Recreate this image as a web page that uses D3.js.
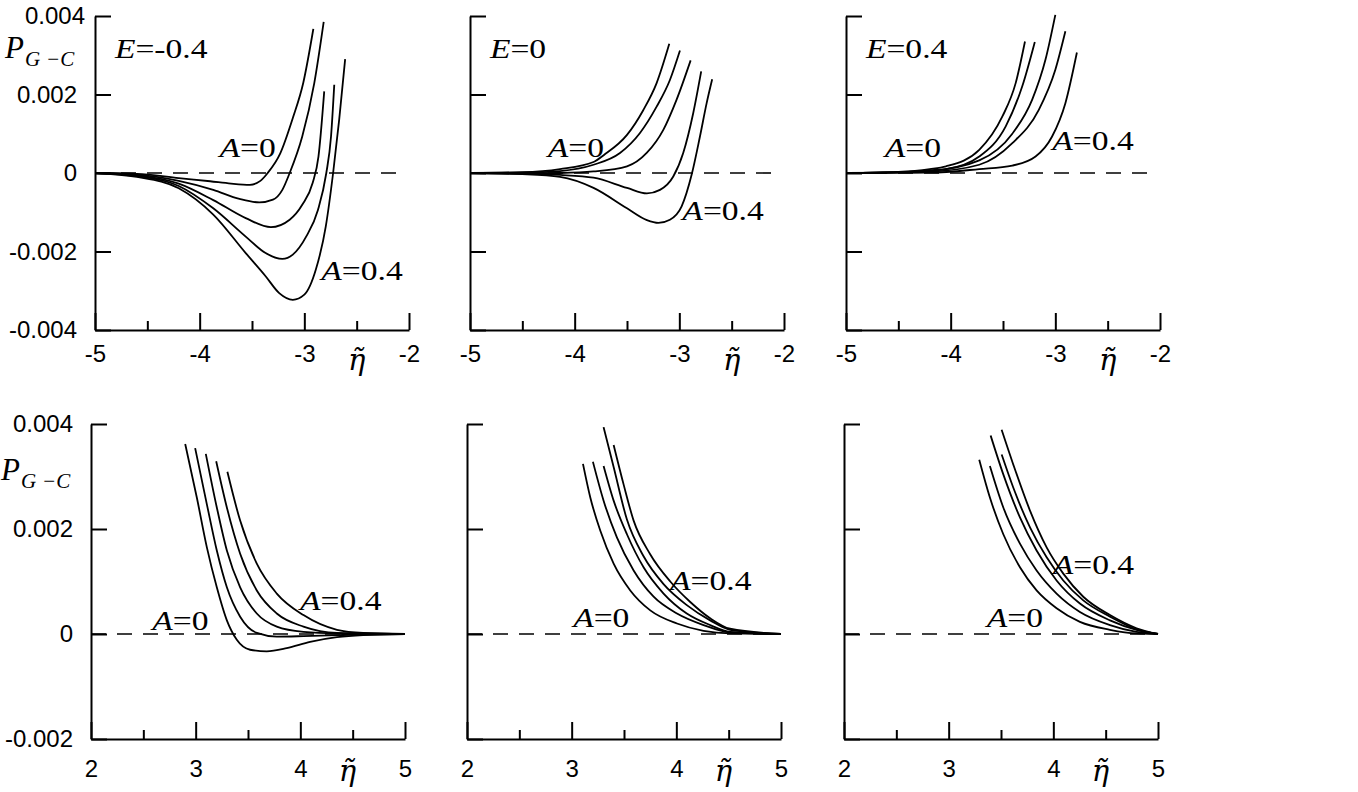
<!DOCTYPE html>
<html>
<head>
<meta charset="utf-8">
<script src="https://cdn.jsdelivr.net/npm/d3@7"></script>
<style>
  body { margin: 0; background: #fff; }
  svg { display: block; }
</style>
</head>
<body>
<div id="chart"></div>
<script>
// each panel holds five curves, A = 0, 0.1, 0.2, 0.3, 0.4 ; points are [eta, P]
var aValues = [0, 0.1, 0.2, 0.3, 0.4];
var eValues = ["-0.4", "0", "0.4"];

// E = -0.4, eta < 0
var curvesNegE1 = [
  [[-5,0],[-4.6,-0.00002],[-4.2,-0.00013],[-3.9,-0.00021],[-3.7,-0.00027],[-3.52,-0.0003],[-3.42,-0.0002],[-3.35,0],[-3.23,0.0005],[-3.11,0.0014],[-3.01,0.0023],[-2.914,0.00367]],
  [[-5,0],[-4.6,-0.00004],[-4.2,-0.0002],[-3.87,-0.00043],[-3.62,-0.00066],[-3.43,-0.00075],[-3.3,-0.00068],[-3.21,-0.00043],[-3.14,0],[-3.02,0.00093],[-2.905,0.00229],[-2.815,0.00385]],
  [[-5,0],[-4.6,-0.00006],[-4.2,-0.00027],[-3.87,-0.00069],[-3.56,-0.00115],[-3.32,-0.00138],[-3.14,-0.00119],[-3.02,-0.00081],[-2.92,-0.00025],[-2.865,0.00042],[-2.81,0.00208]],
  [[-5,0],[-4.6,-0.00008],[-4.2,-0.00033],[-3.87,-0.0009],[-3.56,-0.00162],[-3.37,-0.00204],[-3.21,-0.00219],[-3.11,-0.00208],[-2.98,-0.00161],[-2.87,-0.00094],[-2.79,0],[-2.745,0.00093],[-2.714,0.00225]],
  [[-5,0],[-4.6,-0.0001],[-4.2,-0.00039],[-3.87,-0.00106],[-3.56,-0.00204],[-3.37,-0.00263],[-3.24,-0.00306],[-3.11,-0.00323],[-3.0,-0.0031],[-2.89,-0.00246],[-2.795,-0.00136],[-2.725,0],[-2.667,0.00136],[-2.61,0.0029]]
];
// E = 0, eta < 0
var curvesNegE2 = [
  [[-5,0],[-4.5,0.00002],[-4.14,0.0001],[-3.82,0.00028],[-3.72,0.00046],[-3.5,0.00097],[-3.345,0.0016],[-3.217,0.00229],[-3.096,0.00329]],
  [[-5,0],[-4.5,0.00001],[-4.14,0.00005],[-3.82,0.00021],[-3.567,0.00051],[-3.376,0.00102],[-3.217,0.00169],[-3.09,0.00237],[-2.994,0.00312]],
  [[-5,0],[-4.5,-0.00001],[-4.14,0],[-3.82,0.00004],[-3.5,0.00017],[-3.312,0.00051],[-3.153,0.0011],[-3.026,0.00187],[-2.892,0.00287]],
  [[-5,0],[-4.5,-0.00002],[-4.14,-0.00005],[-3.82,-0.00012],[-3.5,-0.00038],[-3.31,-0.00052],[-3.185,-0.00043],[-3.058,-0.00009],[-2.963,0.00051],[-2.867,0.00153],[-2.791,0.00259]],
  [[-5,0],[-4.5,-0.00003],[-4.14,-0.0001],[-3.82,-0.00038],[-3.5,-0.0009],[-3.31,-0.0012],[-3.2,-0.00127],[-3.09,-0.00119],[-2.978,-0.00085],[-2.882,-0.00004],[-2.803,0.00093],[-2.739,0.00178],[-2.686,0.00239]]
];
// E = 0.4, eta < 0
var curvesNegE3 = [
  [[-5,0],[-4.5,0.00003],[-4.2,0.0001],[-4.044,0.00017],[-3.727,0.00059],[-3.506,0.00144],[-3.379,0.00229],[-3.29,0.00335]],
  [[-5,0],[-4.5,0.00002],[-4.2,0.00007],[-4.044,0.0001],[-3.727,0.00042],[-3.474,0.00119],[-3.316,0.00221],[-3.196,0.00334]],
  [[-5,0],[-4.5,0.00002],[-4.2,0.00005],[-3.727,0.00032],[-3.411,0.001],[-3.221,0.00187],[-3.094,0.00289],[-3.0,0.00403]],
  [[-5,0],[-4.5,0.00001],[-4.2,0.00003],[-3.727,0.00021],[-3.411,0.00076],[-3.158,0.00161],[-3.0,0.00263],[-2.904,0.00361]],
  [[-5,0],[-4.5,0.00001],[-4.2,0.00001],[-3.727,0.0001],[-3.411,0.00019],[-3.189,0.00042],[-3.031,0.00093],[-2.904,0.00178],[-2.794,0.00307]]
];
// E = -0.4, eta > 0
var curvesPosE1 = [
  [[2.9,0.00362],[3.011,0.0026],[3.107,0.00165],[3.202,0.00089],[3.298,0.00026],[3.393,-0.00011],[3.52,-0.0003],[3.679,-0.00033],[3.87,-0.00027],[4.093,-0.00015],[4.35,-0.00006],[4.6,-0.00002],[5,0]],
  [[2.995,0.00354],[3.107,0.00247],[3.202,0.00159],[3.298,0.00089],[3.425,0.00033],[3.584,0.00002],[3.775,-0.00005],[4.03,-0.00004],[4.35,-0.00002],[5,0]],
  [[3.097,0.00343],[3.202,0.00241],[3.298,0.00159],[3.425,0.00089],[3.584,0.00039],[3.775,0.00014],[4.03,0.00004],[4.35,0.00001],[5,0]],
  [[3.196,0.00329],[3.298,0.00241],[3.425,0.00153],[3.584,0.00083],[3.775,0.00039],[4.03,0.00014],[4.35,0.00002],[5,0]],
  [[3.303,0.00309],[3.425,0.00216],[3.584,0.00134],[3.775,0.00077],[4.03,0.00036],[4.35,0.00008],[4.6,0.00002],[5,0]]
];
// E = 0, eta > 0
var curvesPosE2 = [
  [[3.108,0.00324],[3.178,0.0026],[3.273,0.00197],[3.401,0.00134],[3.56,0.00083],[3.751,0.00045],[4.006,0.0002],[4.26,0.00006],[4.514,0.00001],[5,0]],
  [[3.203,0.00328],[3.305,0.00254],[3.432,0.00184],[3.592,0.00121],[3.783,0.00071],[4.006,0.00039],[4.26,0.00017],[4.514,0.00003],[5,0]],
  [[3.305,0.0032],[3.401,0.00254],[3.528,0.0019],[3.687,0.00127],[3.878,0.00077],[4.1,0.00039],[4.323,0.00017],[4.514,0.00004],[5,0]],
  [[3.305,0.00394],[3.401,0.00318],[3.528,0.00218],[3.687,0.00148],[3.878,0.00095],[4.1,0.00055],[4.323,0.00026],[4.514,0.00008],[5,0]],
  [[3.401,0.0036],[3.496,0.00285],[3.592,0.00216],[3.75,0.00152],[3.942,0.001],[4.133,0.00061],[4.323,0.0003],[4.514,0.0001],[5,0]]
];
// E = 0.4, eta > 0
var curvesPosE3 = [
  [[3.292,0.00332],[3.394,0.0026],[3.522,0.0019],[3.681,0.00127],[3.84,0.00083],[4.031,0.00049],[4.254,0.00023],[4.541,0.00008],[4.795,0.00001],[5,0]],
  [[3.394,0.0032],[3.522,0.00241],[3.681,0.00172],[3.84,0.00121],[4.031,0.00077],[4.254,0.00042],[4.541,0.00017],[4.795,0.00004],[5,0]],
  [[3.401,0.00378],[3.522,0.00304],[3.681,0.00222],[3.84,0.00159],[4.031,0.00102],[4.254,0.00058],[4.541,0.00026],[4.795,0.00008],[5,0]],
  [[3.506,0.00342],[3.617,0.00279],[3.777,0.00203],[3.936,0.00146],[4.095,0.00102],[4.286,0.00064],[4.541,0.00033],[4.795,0.00009],[5,0]],
  [[3.506,0.00389],[3.617,0.00323],[3.777,0.00235],[3.936,0.00165],[4.095,0.00115],[4.286,0.00071],[4.541,0.00036],[4.795,0.00011],[5,0]]
];

// axis ticks
var xTicksNeg = [-5, -4, -3, -2];
var xLabelsNeg = ["-5", "-4", "-3", "-2"];
var xMinorNeg = [-4.5, -3.5, -2.5];
var xTicksPos = [2, 3, 4, 5];
var xLabelsPos = ["2", "3", "4", "5"];
var xMinorPos = [2.5, 3.5, 4.5];
var yTicksTop = [-0.004, -0.002, 0, 0.002, 0.004];
var yLabelsTop = ["-0.004", "-0.002", "0", "0.002", "0.004"];
var yTicksBottom = [-0.002, 0, 0.002, 0.004];
var yLabelsBottom = ["-0.002", "0", "0.002", "0.004"];

// where the "A=0" and "A=0.4" notes sit, [eta, P] of their left baseline
var noteA0 = [[-3.81, 0.00042], [-4.257, 0.00042], [-4.629, 0.00042], [2.585, 0.00008], [3.014, 0.00013], [3.364, 0.00013]];
var noteA4 = [[-2.838, -0.00272], [-2.971, -0.00119], [-3.029, 0.00059], [3.997, 0.00045], [3.94, 0.00083], [3.994, 0.00115]];
var noteE = [-4.81, 0.00294];

var W = 1358, H = 792;
var serif = "'Liberation Serif','Times New Roman',serif";
var sans = "'Liberation Sans',Arial,sans-serif";
var stretch = 1.2;

var svg = d3.select("#chart").append("svg")
  .attr("width", W)
  .attr("height", H);

svg.append("rect").attr("width", W).attr("height", H).attr("fill", "#fff");

var panels = [
  {curves: curvesNegE1, left: 95,  top: 16,  bottom: 330, xd: [-5, -2], yd: [-0.004, 0.004], row: 0, col: 0},
  {curves: curvesNegE2, left: 470, top: 16,  bottom: 330, xd: [-5, -2], yd: [-0.004, 0.004], row: 0, col: 1},
  {curves: curvesNegE3, left: 846, top: 16,  bottom: 330, xd: [-5, -2], yd: [-0.004, 0.004], row: 0, col: 2},
  {curves: curvesPosE1, left: 91,  top: 424, bottom: 739, xd: [2, 5],   yd: [-0.002, 0.004], row: 1, col: 0},
  {curves: curvesPosE2, left: 467, top: 424, bottom: 739, xd: [2, 5],   yd: [-0.002, 0.004], row: 1, col: 1},
  {curves: curvesPosE3, left: 844, top: 424, bottom: 739, xd: [2, 5],   yd: [-0.002, 0.004], row: 1, col: 2}
];

function serifNote(g, px, py, name, value) {
  var t = g.append("text")
    .attr("transform", "translate(" + px + "," + py + ") scale(" + stretch + ",1)")
    .attr("font-family", serif)
    .attr("font-size", 28)
    .attr("fill", "#000");
  t.append("tspan").attr("font-style", "italic").text(name);
  t.append("tspan").text("=" + value);
}

panels.forEach(function(p, k) {
  var top = p.row === 0;
  var x = d3.scaleLinear().domain(p.xd).range([p.left, p.left + 314]);
  var y = d3.scaleLinear().domain(p.yd).range([p.bottom, p.top]);
  var g = svg.append("g");

  // dashed zero line
  var dashEnd = top ? -2.1 : 5;
  g.append("line")
    .attr("x1", x(p.xd[0])).attr("x2", x(dashEnd))
    .attr("y1", y(0)).attr("y2", y(0))
    .attr("stroke", "#000")
    .attr("stroke-width", 1.6)
    .attr("stroke-dasharray", "15,11");

  // curves
  var line = d3.line()
    .x(function(d) { return x(d[0]); })
    .y(function(d) { return y(d[1]); })
    .curve(d3.curveMonotoneX);

  g.selectAll("path.curve")
    .data(p.curves)
    .enter()
    .append("path")
    .attr("class", "curve")
    .attr("d", line)
    .attr("fill", "none")
    .attr("stroke", "#000")
    .attr("stroke-width", 1.8);

  // y axis, ticks pointing inwards
  var yTicks = top ? yTicksTop : yTicksBottom;
  var yLabels = top ? yLabelsTop : yLabelsBottom;
  var yAx = g.append("g")
    .attr("transform", "translate(" + p.left + ",0)")
    .call(d3.axisLeft(y)
      .tickValues(yTicks)
      .tickSizeInner(-16)
      .tickSizeOuter(0)
      .tickPadding(18)
      .tickFormat(function(d, i) { return p.col === 0 ? yLabels[i] : ""; }));
  yAx.selectAll("text")
    .attr("font-family", sans)
    .attr("font-size", 24)
    .attr("dx", function(d) { return top && d === 0.004 ? 8 : 0; });

  // x axis, major and minor ticks pointing inwards
  var xAx = g.append("g")
    .attr("transform", "translate(0," + p.bottom + ")")
    .call(d3.axisBottom(x)
      .tickValues(top ? xTicksNeg : xTicksPos)
      .tickSizeInner(-17)
      .tickSizeOuter(0)
      .tickPadding(top ? 15 : 21)
      .tickFormat(function(d, i) { return (top ? xLabelsNeg : xLabelsPos)[i]; }));
  xAx.selectAll("text")
    .attr("font-family", sans)
    .attr("font-size", 24);

  var xMin = g.append("g")
    .attr("transform", "translate(0," + p.bottom + ")")
    .call(d3.axisBottom(x)
      .tickValues(top ? xMinorNeg : xMinorPos)
      .tickSizeInner(-9)
      .tickSizeOuter(0)
      .tickFormat(""));
  xMin.select(".domain").remove();

  g.selectAll(".domain, .tick line").attr("stroke", "#000").attr("stroke-width", 2);

  // eta-tilde axis title (eta with a combining tilde)
  g.append("text")
    .attr("x", x(top ? -2.5 : 4.45))
    .attr("y", p.bottom + (top ? 40 : 42))
    .attr("text-anchor", "middle")
    .attr("font-family", "'DejaVu Serif',serif")
    .attr("font-style", "italic")
    .attr("font-size", 29)
    .text("η\u0303");

  // P_{G-C} on the left panels
  if (p.col === 0) {
    var pt = g.append("text")
      .attr("x", p.left - 90).attr("y", y(0.00293))
      .attr("font-family", serif)
      .attr("font-style", "italic");
    pt.append("tspan").attr("font-size", 31).text("P");
    pt.append("tspan").attr("font-size", 21).attr("dx", 1).attr("dy", 8).text("G");
    pt.append("tspan").attr("font-size", 21).attr("dx", 6).text("−C");
  }

  // E label on the top panels
  if (top) {
    serifNote(g, x(noteE[0]), y(noteE[1]), "E", eValues[p.col]);
  }

  // A notes
  serifNote(g, x(noteA0[k][0]), y(noteA0[k][1]), "A", aValues[0]);
  serifNote(g, x(noteA4[k][0]), y(noteA4[k][1]), "A", aValues[4]);
});
</script>
</body>
</html>
